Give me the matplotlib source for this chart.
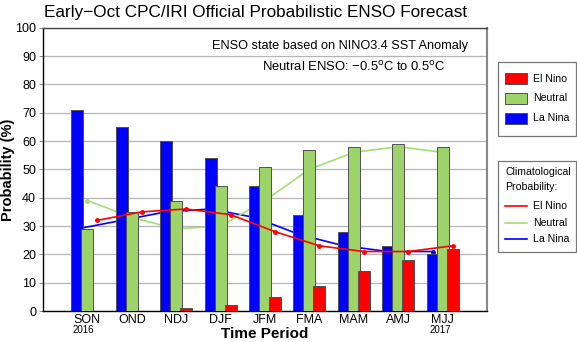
import matplotlib
matplotlib.use("Agg")
import matplotlib.pyplot as plt
from matplotlib.patches import Rectangle
from matplotlib.lines import Line2D
import numpy as np

plt.rcParams['font.family'] = ['Liberation Sans', 'DejaVu Sans']

# Forecast seasons
seasons = ["SON", "OND", "NDJ", "DJF", "JFM", "FMA", "MAM", "AMJ", "MJJ"]

# Official probabilistic forecast (%)
la_nina = [71, 65, 60, 54, 44, 34, 28, 23, 20]
neutral = [29, 35, 39, 44, 51, 57, 58, 59, 58]
el_nino = [0, 0, 1, 2, 5, 9, 14, 18, 22]

# Climatological probability (%)
clim_el_nino = [32, 35, 36, 34, 28, 23, 21, 21, 23]
clim_neutral = [39, 33, 29, 30, 39, 50, 56, 58, 56]
clim_la_nina = [29, 32, 35, 36, 33, 27, 23, 21, 21]

category_names = ["El Nino", "Neutral", "La Nina"]

C_RED = "#ff0000"
C_GREEN = "#9cd46a"
C_BLUE = "#0000ff"
C_GREEN_LINE = "#a6dc74"
C_EDGE = "#505050"

W, H = 577, 342
fig = plt.figure(figsize=(W / 100, H / 100), dpi=100)


def fx(px):
    return px / W


def fy(py):
    return 1 - py / H


ax = fig.add_axes([fx(43), fy(311), (487 - 43) / W, (311 - 27.7) / H])

x = np.arange(len(seasons))
off = 0.225
w = 0.27
edge = dict(edgecolor=C_EDGE, linewidth=0.7)

# climatology lines for La Nina / Neutral sit behind the bars
ax.plot(x - off, clim_la_nina, color=C_BLUE, lw=1.2, marker="o", ms=2.5, zorder=1)
ax.plot(x, clim_neutral, color=C_GREEN_LINE, lw=1.2, marker="o", ms=2.5, zorder=1)

ax.bar(x - off, la_nina, w, color=C_BLUE, zorder=2, **edge)
ax.bar(x, neutral, w, color=C_GREEN, zorder=3, **edge)
ax.bar(x + off, el_nino, w, color=C_RED, zorder=4, **edge)

# El Nino climatology drawn above the bars
ax.plot(x + off, clim_el_nino, color=C_RED, lw=1.2, marker="o", ms=2.5, zorder=5)

ax.set_xlim(-1, 9)
ax.set_ylim(0, 100)
ax.set_yticks(np.arange(0, 101, 10))
ax.set_xticks(x)
ax.set_xticklabels(seasons)
ax.tick_params(axis="x", length=0, pad=2.5, labelsize=9)
ax.tick_params(axis="y", length=3, width=0.6, color="#777777", pad=2, labelsize=9)
ax.yaxis.grid(True, color="#b4b4b4", lw=0.9, zorder=0)
ax.set_axisbelow(True)

for s in ("left", "bottom"):
    ax.spines[s].set_color("black")
    ax.spines[s].set_linewidth(1.0)
ax.spines["top"].set_color("#444444")
ax.spines["top"].set_linewidth(1.0)
ax.spines["right"].set_color("#888888")
ax.spines["right"].set_linewidth(1.5)

ax.set_ylabel("Probability (%)", fontsize=10.5, fontweight="bold")
ax.yaxis.set_label_coords(-0.063, 0.5)
ax.set_xlabel("Time Period", fontsize=11, fontweight="bold")
ax.xaxis.set_label_coords(0.5, -0.081)
ax.xaxis.label.set_va("center")

# year markers under the first and last seasons
ax.text(-0.09, -0.068, "2016", transform=ax.get_xaxis_transform(), ha="center",
        va="center", fontsize=7)
ax.text(7.95, -0.068, "2017", transform=ax.get_xaxis_transform(), ha="center",
        va="center", fontsize=7)

fig.text(fx(255.5), fy(12), "Early\u2212Oct CPC/IRI Official Probabilistic ENSO Forecast",
         ha="center", va="center", fontsize=12.3)

ax.text(0.957, 0.935, "ENSO state based on NINO3.4 SST Anomaly",
        transform=ax.transAxes, ha="right", va="center", fontsize=9.2)
ax.text(0.908, 0.862, "Neutral ENSO: \u22120.5$^{\\mathrm{o}}$C to 0.5$^{\\mathrm{o}}$C",
        transform=ax.transAxes, ha="right", va="center", fontsize=9.4)


def frame(x0, y0, x1, y1):
    fig.add_artist(Rectangle((fx(x0), fy(y1)), fx(x1) - fx(x0), fy(y0) - fy(y1),
                             transform=fig.transFigure, facecolor="white",
                             edgecolor="#777777", lw=0.9))


# key for the forecast categories
frame(498, 61.7, 576.3, 136)
for name, col, yy in zip(category_names, [C_RED, C_GREEN, C_BLUE], [78.7, 98.3, 118]):
    fig.add_artist(Rectangle((fx(505), fy(yy + 5.5)), fx(527) - fx(505), 11 / H,
                             transform=fig.transFigure, facecolor=col,
                             edgecolor=C_EDGE, lw=0.7))
    fig.text(fx(533), fy(yy), name, ha="left", va="center", fontsize=7.6)

# key for the climatological probabilities
frame(498, 161, 576.3, 251.7)
fig.text(fx(505), fy(171.7), "Climatological", ha="left", va="center", fontsize=7.6)
fig.text(fx(505), fy(187), "Probability:", ha="left", va="center", fontsize=7.6)
for name, col, yy in zip(category_names, [C_RED, C_GREEN_LINE, C_BLUE], [206, 222.5, 239]):
    fig.add_artist(Line2D([fx(505), fx(527)], [fy(yy), fy(yy)],
                          transform=fig.transFigure, color=col, lw=1.2))
    fig.text(fx(533), fy(yy), name, ha="left", va="center", fontsize=7.6)

fig.savefig("out.png", dpi=100)
